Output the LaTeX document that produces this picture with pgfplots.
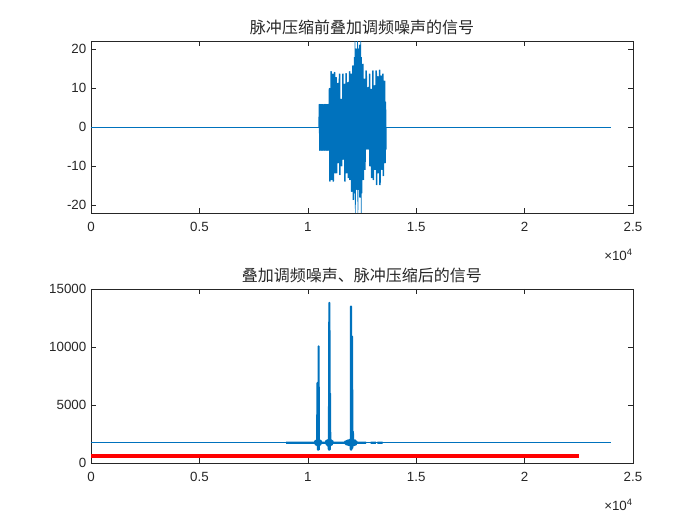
\documentclass[border=0pt]{standalone}
\usepackage{fontspec}
\setmainfont{Liberation Sans}
\newfontfamily\cjk{Noto Sans CJK SC}
\usepackage{pgfplots}
\pgfplotsset{compat=1.18}
\definecolor{mblue}{RGB}{0,114,189}
\definecolor{mgray}{RGB}{38,38,38}
\begin{document}
\begin{tikzpicture}
\useasboundingbox (0pt,0pt) rectangle (525pt,393.75pt);
\pgfplotsset{
 mstyle/.style={scale only axis, width=406.5pt, clip mode=individual,
  axis line style={mgray}, tick style={mgray, line width=0.4pt},
  major tick length=3.5pt, tick align=inside,
  every tick label/.append style={font=\fontsize{10}{12}\selectfont, text=mgray},
  xticklabel style={yshift=-3.5pt},
  /pgf/number format/assume math mode=true, /pgf/number format/1000 sep={},
  scaled ticks=false, xmin=0, xmax=25000,
  xtick={0,5000,10000,15000,20000,25000}, xticklabels={0,0.5,1,1.5,2,2.5},
  title style={font=\cjk\fontsize{12}{14}\selectfont, text=mgray, at={(0.5,1)}, anchor=south, yshift=-5pt},
  every axis plot/.append style={line join=round}}
}
\begin{axis}[mstyle, anchor=south west, at={(68.25pt,234pt)}, height=129pt,
  ymin=-22, ymax=22, ytick={-20,-10,0,10,20},
  title={脉冲压缩前叠加调频噪声的信号}]
\addplot[mblue, line width=0.75pt] coordinates {(0,0) (10520,0)};
\addplot[mblue, line width=0.75pt] coordinates {(13619,0) (24000,0)};
\addplot[mblue, line width=0.5pt] coordinates {
(10500,0)
(10520,5.8) (10539,-6) (10558,5.8) (10577,-6)
(10597,5.8) (10616,-6) (10635,5.8) (10654,-6)
(10674,5.8) (10693,-6) (10712,5.8) (10731,-6)
(10751,5.8) (10770,-6) (10789,5.8) (10808,-6)
(10828,5.8) (10847,-6) (10866,5.8) (10885,-6)
(10905,5.8) (10924,-6) (10943,5.8) (10962,-6)
(10982,9.9) (11001,-13.9) (11020,9.9) (11039,-13.9)
(11059,14.2) (11078,-13.5) (11097,14.2) (11116,-13.5)
(11136,13.6) (11155,-13.9) (11174,13.6) (11193,-13.9)
(11213,14.0) (11232,-11.8) (11251,14.0) (11270,-11.8)
(11290,12.7) (11309,-11.8) (11328,12.7) (11347,-11.8)
(11367,11.2) (11386,-9.2) (11405,11.2) (11424,-9.2)
(11444,13.6) (11463,-12.2) (11482,13.6) (11501,-12.2)
(11521,7.1) (11540,-10) (11559,7.1) (11578,-10)
(11598,13.6) (11617,-8.3) (11636,13.6) (11655,-8.3)
(11675,11.0) (11694,-13.9) (11713,11.0) (11732,-13.9)
(11752,13.7) (11771,-11.8) (11790,13.7) (11809,-11.8)
(11829,11.4) (11848,-13.0) (11867,11.4) (11886,-13.0)
(11906,14.2) (11925,-13.5) (11944,14.2) (11963,-13.5)
(11983,13.6) (12002,-16.5) (12021,13.6) (12040,-16.5)
(12060,15.7) (12079,-18.6) (12098,15.7) (12117,-18.6)
(12137,17.8) (12156,-16.9) (12175,25) (12194,-25)
(12214,20) (12233,-16) (12252,20) (12271,-16)
(12291,25) (12310,-25) (12329,20) (12348,-16)
(12368,21) (12387,-18) (12406,21) (12425,-18)
(12445,25) (12464,-25) (12483,17.8) (12502,-16.9)
(12522,16.1) (12541,-13.5) (12560,16.1) (12579,-13.5)
(12599,12.3) (12618,-10.9) (12637,12.3) (12656,-10.9)
(12676,14.4) (12695,-5.7) (12714,14.4) (12733,-5.7)
(12753,10.1) (12772,-5.7) (12791,10.1) (12810,-5.7)
(12830,13.6) (12849,-10) (12868,13.6) (12887,-10)
(12907,9.7) (12926,-13) (12945,9.7) (12964,-13)
(12984,14.4) (13003,-13.5) (13022,14.4) (13041,-13.5)
(13061,10.6) (13080,-10.9) (13099,10.6) (13118,-10.9)
(13138,14.4) (13157,-14.8) (13176,14.4) (13195,-14.8)
(13215,12.9) (13234,-11.8) (13253,12.9) (13272,-11.8)
(13292,14.6) (13311,-14.8) (13330,14.6) (13349,-14.8)
(13369,13.1) (13388,-10.9) (13407,13.1) (13426,-10.9)
(13446,13.6) (13465,-12.5) (13484,13.6) (13503,-12.5)
(13523,11.8) (13542,-9.2) (13561,11.8) (13580,-9.2)
(13600,6.4) (13619,-5.7) (13620,0)
};
\node[anchor=north east, inner sep=0pt, font=\fontsize{10}{12}\selectfont, text=mgray, yshift=-27pt] at (rel axis cs:1,0) {×10\textsuperscript{4}};
\end{axis}
\begin{axis}[mstyle, anchor=south west, at={(68.25pt,46.5pt)}, height=130.5pt,
  ymin=0, ymax=15000, ytick={0,5000,10000,15000},
  unbounded coords=jump,
  title={叠加调频噪声、脉冲压缩后的信号}]
\addplot[mblue, line width=0.75pt] coordinates {(0,1785) (24000,1785)};
\addplot[mblue, line width=1.6pt] coordinates {
(9000,1740) (10330,1740)
(10350,1900) (10370,1580) (10390,1950) (10410,1550) (10430,1980) (10450,6900) (10465,1150) (10480,1980) (10495,1150) (10500,10050) (10505,1150) (10520,1980) (10540,1550) (10560,1950) (10580,1580) (10600,1900) (10620,1740)
(10830,1740) (10850,1900) (10870,1580) (10890,1950) (10910,1550) (10930,1980) (10950,1520) (10975,1150) (10995,13800) (11010,1150) (11025,6000) (11035,1500) (11050,1980) (11070,1550) (11090,1950) (11110,1580) (11130,1900) (11150,1740)
(11700,1740) (11730,1850) (11760,1620) (11790,1900) (11820,1580) (11850,1950) (11880,1550) (11910,1980) (11940,1520) (11970,1950) (11985,1150) (11995,13500) (12010,1150) (12040,10900) (12055,1300) (12080,2700) (12095,1500) (12120,1980) (12150,1550) (12180,1950) (12210,1580) (12240,1850) (12260,1740)
(12685,1740) (12686,nan) (12900,1740) (13145,1740) (13146,nan) (13210,1740) (13455,1740)
};
\addplot[red, line width=2.5pt] coordinates {(0,600) (22500,600)};
\node[anchor=north east, inner sep=0pt, font=\fontsize{10}{12}\selectfont, text=mgray, yshift=-27pt] at (rel axis cs:1,0) {×10\textsuperscript{4}};
\end{axis}
\end{tikzpicture}
\end{document}
